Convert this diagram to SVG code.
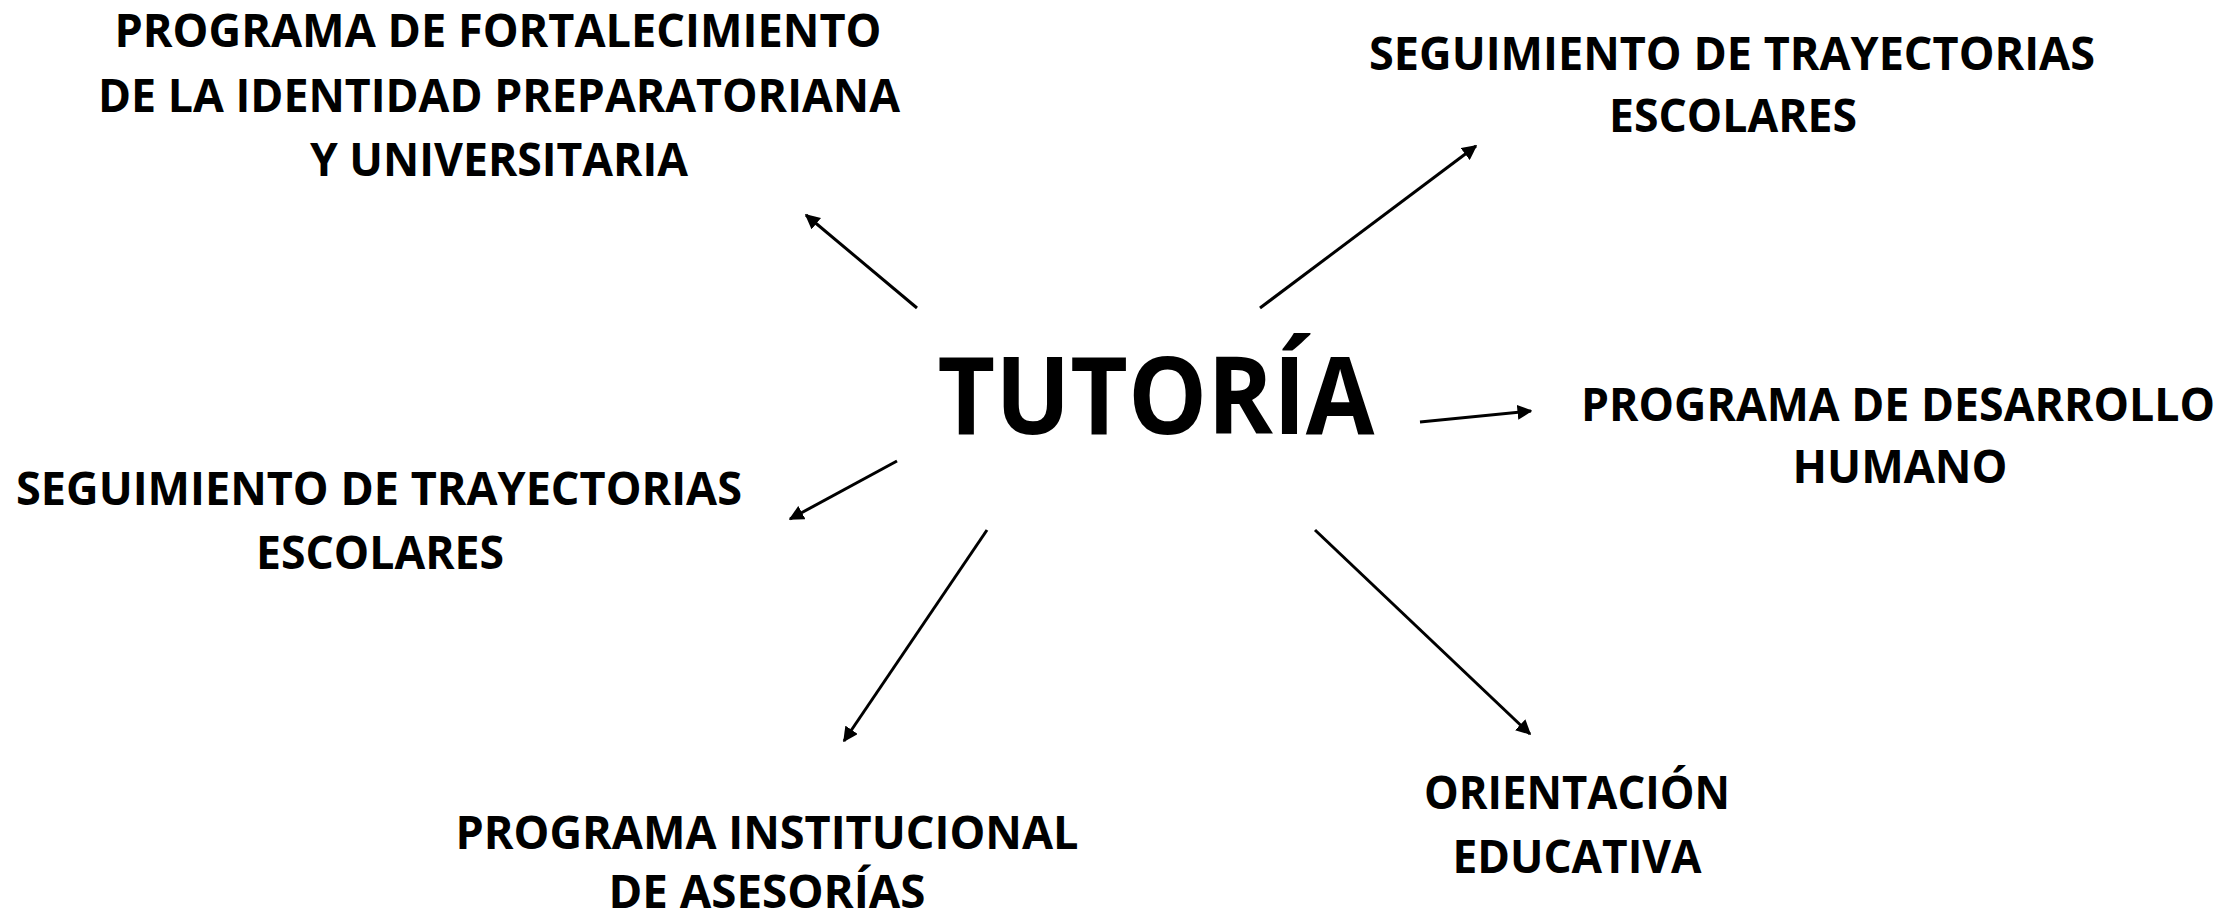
<svg xmlns="http://www.w3.org/2000/svg" width="2229" height="915" viewBox="0 0 2229 915">
<defs>
<style>
text{font-family:"Open Sans","Noto Sans","Liberation Sans",sans-serif;font-weight:700;fill:#000;text-anchor:middle}
.lbl{font-size:46px}
.main{font-size:108px}
.con{stroke:#000;stroke-width:3;fill:none;marker-end:url(#ah)}
</style>
<marker id="ah" viewBox="0 0 10 10" refX="9" refY="5" markerWidth="5" markerHeight="5" orient="auto" markerUnits="strokeWidth">
<path d="M0,0 L10,5 L0,10 z" fill="#000"/>
</marker>
</defs>
<rect width="2229" height="915" fill="#fff"/>
<g id="connectors">
<line class="con" x1="917" y1="308" x2="806" y2="215"/>
<line class="con" x1="1260" y1="308" x2="1476" y2="146"/>
<line class="con" x1="1420" y1="422" x2="1531" y2="411"/>
<line class="con" x1="897" y1="461" x2="790" y2="519"/>
<line class="con" x1="987" y1="530" x2="844" y2="741"/>
<line class="con" x1="1315" y1="530" x2="1530" y2="734"/>
</g>
<g id="tutoria">
<text class="main" x="1156" y="434" textLength="437" lengthAdjust="spacingAndGlyphs">TUTORÍA</text>
</g>
<g id="fortalecimiento">
<text class="lbl" x="498" y="47" textLength="767" lengthAdjust="spacingAndGlyphs">PROGRAMA DE FORTALECIMIENTO</text>
<text class="lbl" x="499" y="112" textLength="802" lengthAdjust="spacingAndGlyphs">DE LA IDENTIDAD PREPARATORIANA</text>
<text class="lbl" x="499" y="176" textLength="378" lengthAdjust="spacingAndGlyphs">Y UNIVERSITARIA</text>
</g>
<g id="trayectorias-top">
<text class="lbl" x="1732" y="70" textLength="726" lengthAdjust="spacingAndGlyphs">SEGUIMIENTO DE TRAYECTORIAS</text>
<text class="lbl" x="1733" y="132" textLength="248" lengthAdjust="spacingAndGlyphs">ESCOLARES</text>
</g>
<g id="desarrollo">
<text class="lbl" x="1898" y="421" textLength="634" lengthAdjust="spacingAndGlyphs">PROGRAMA DE DESARROLLO</text>
<text class="lbl" x="1900" y="483" textLength="215" lengthAdjust="spacingAndGlyphs">HUMANO</text>
</g>
<g id="trayectorias-left">
<text class="lbl" x="379" y="505" textLength="726" lengthAdjust="spacingAndGlyphs">SEGUIMIENTO DE TRAYECTORIAS</text>
<text class="lbl" x="380" y="569" textLength="248" lengthAdjust="spacingAndGlyphs">ESCOLARES</text>
</g>
<g id="asesorias">
<text class="lbl" x="767" y="849" textLength="623" lengthAdjust="spacingAndGlyphs">PROGRAMA INSTITUCIONAL</text>
<text class="lbl" x="767" y="908" textLength="317" lengthAdjust="spacingAndGlyphs">DE ASESORÍAS</text>
</g>
<g id="orientacion">
<text class="lbl" x="1577" y="809" textLength="306" lengthAdjust="spacingAndGlyphs">ORIENTACIÓN</text>
<text class="lbl" x="1577" y="873" textLength="249" lengthAdjust="spacingAndGlyphs">EDUCATIVA</text>
</g>
</svg>
